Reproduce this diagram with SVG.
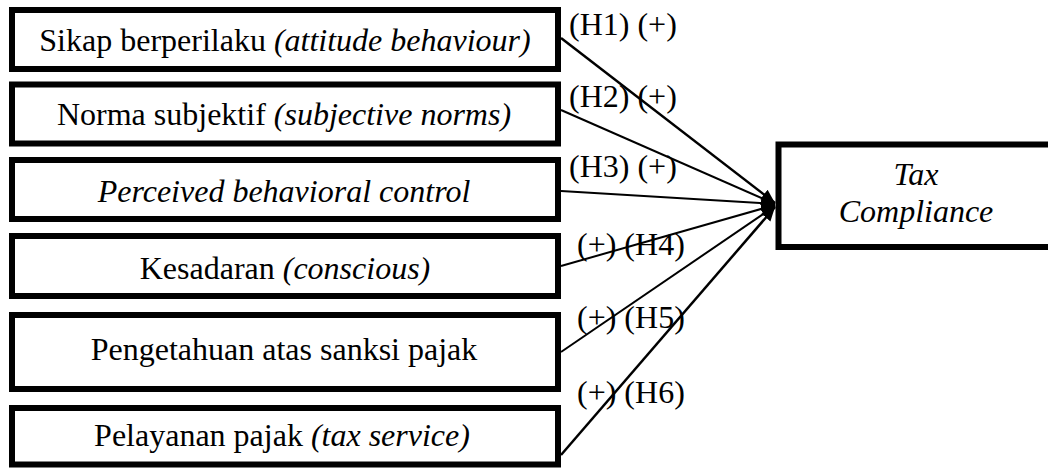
<svg xmlns="http://www.w3.org/2000/svg" width="1048" height="468" viewBox="0 0 1048 468">
<style>
.box{fill:#fff;stroke:#000;stroke-width:6}
text,tspan,.t{font-family:"Liberation Serif","Times New Roman",serif;font-size:32px;fill:#000}
.c{text-anchor:middle}
.i{font-style:italic}
.ln{stroke:#000;stroke-width:2;fill:none;marker-end:url(#ah)}
</style>
<defs>
<marker id="ah" markerUnits="userSpaceOnUse" markerWidth="16" markerHeight="14" refX="14" refY="6" orient="auto">
<path d="M0,0 L14,6 L0,12 Z" fill="#000"/>
</marker>
</defs>
<rect width="1048" height="468" fill="#fff"/>
<g id="n1"><rect class="box" x="12" y="10" width="546" height="59"/><text class="t c" x="285" y="51">Sikap berperilaku <tspan class="i">(attitude behaviour)</tspan></text></g>
<g id="n2"><rect class="box" x="12" y="84.5" width="546" height="59"/><text class="t c" x="284" y="125">Norma subjektif <tspan class="i">(subjective norms)</tspan></text></g>
<g id="n3"><rect class="box" x="12" y="160" width="546" height="59"/><text class="t c i" x="284" y="202">Perceived behavioral control</text></g>
<g id="n4"><rect class="box" x="12" y="236" width="546" height="60"/><text class="t c" x="285" y="279">Kesadaran <tspan class="i">(conscious)</tspan></text></g>
<g id="n5"><rect class="box" x="12" y="315" width="546" height="74"/><text class="t c" x="284" y="360">Pengetahuan atas sanksi pajak</text></g>
<g id="n6"><rect class="box" x="12" y="408" width="546" height="56.5"/><text class="t c" x="282" y="446">Pelayanan pajak <tspan class="i">(tax service)</tspan></text></g>
<g id="target"><rect class="box" x="778.5" y="144.5" width="280" height="102.5"/><text class="t c i" x="916" y="185">Tax</text><text class="t c i" x="916" y="222">Compliance</text></g>
<g id="connectors">
<line class="ln" x1="561" y1="38" x2="775" y2="203" style="stroke-width:2.5"/>
<line class="ln" x1="561" y1="110" x2="775" y2="204"/>
<line class="ln" x1="561" y1="191" x2="775" y2="204"/>
<line class="ln" x1="561" y1="266" x2="775" y2="205"/>
<line class="ln" x1="561" y1="352" x2="775" y2="206"/>
<line class="ln" x1="561" y1="455" x2="775" y2="207" style="stroke-width:2.5"/>
</g>
<g id="labels">
<text class="t" x="569" y="35">(H1) (+)</text>
<text class="t" x="569" y="107">(H2) (+)</text>
<text class="t" x="569" y="177">(H3) (+)</text>
<text class="t" x="577" y="255">(+) (H4)</text>
<text class="t" x="577" y="328">(+) (H5)</text>
<text class="t" x="577" y="403">(+) (H6)</text>
</g>
</svg>
